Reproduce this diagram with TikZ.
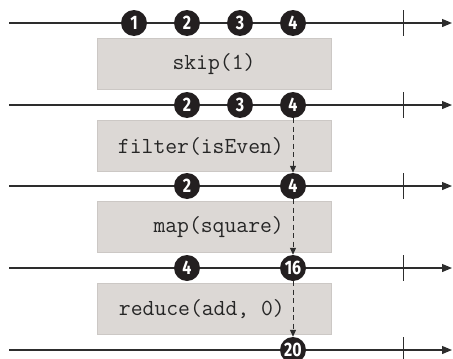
\documentclass[tikz,border=0pt]{standalone}
\usepackage{fontspec}
\usepackage{xcolor}
\usepackage{tikz}
\usetikzlibrary{arrows.meta,positioning}
\newfontfamily\numfont{Fira Sans}[FakeStretch=0.82]
\definecolor{opgray}{RGB}{220,216,213}
\definecolor{opedge}{RGB}{204,200,197}
\definecolor{ballblack}{RGB}{35,31,32}
\definecolor{linegray}{RGB}{45,45,45}

\begin{document}
\begin{tikzpicture}[x=1pt, y=-1pt, op/.style={draw=opedge,fill=opgray,minimum width=234pt,minimum height=51pt,inner sep=0pt}, optext/.style={font=\ttfamily\fontsize{23}{23}\selectfont,text=black!85,inner sep=0pt}, ball/.style={circle,fill=ballblack,text=white,minimum size=26pt,inner sep=0pt,font=\numfont\bfseries\fontsize{19.5}{19.5}\selectfont}, timeline/.style={draw=linegray,line width=1.2pt,-{Triangle[length=10pt,width=8pt]}}, tick/.style={draw=linegray,line width=0.9pt}, emit/.style={draw=linegray,line width=1pt,dash pattern=on 5pt off 3.5pt,-{Triangle[length=7pt,width=6pt]}}]
\useasboundingbox (0,0) rectangle (453,359);
% time lines
\coordinate (s1) at (9,23);  \coordinate (e1) at (452,23);  \coordinate (t1) at (403,23);
\coordinate (s2) at (9,105); \coordinate (e2) at (452,105); \coordinate (t2) at (403,105);
\coordinate (s3) at (9,186); \coordinate (e3) at (452,186); \coordinate (t3) at (403,186);
\coordinate (s4) at (9,268); \coordinate (e4) at (452,268); \coordinate (t4) at (403,268);
\coordinate (s5) at (9,350); \coordinate (e5) at (452,350); \coordinate (t5) at (403,350);
\draw[timeline] (s1) -- (e1);
\draw[timeline] (s2) -- (e2);
\draw[timeline] (s3) -- (e3);
\draw[timeline] (s4) -- (e4);
\draw[timeline] (s5) -- (e5);
\draw[tick] ([yshift=13pt]t1) -- ([yshift=-13pt]t1);
\draw[tick] ([yshift=13pt]t2) -- ([yshift=-13pt]t2);
\draw[tick] ([yshift=13pt]t3) -- ([yshift=-13pt]t3);
\draw[tick] ([yshift=13pt]t4) -- ([yshift=-13pt]t4);
\draw[tick] ([yshift=13pt]t5) -- ([yshift=-13pt]t5);
% operators
\node[op] (skip) at (214,64) {};
\node[optext] (skiptxt) at (skip.center) {skip(1)};
\node[op] (filter) at (214,146) {};
\node[optext,anchor=east] (filtertxt) at (284,146) {filter(isEven)};
\node[op] (map) at (214,227) {};
\node[optext,anchor=east] (maptxt) at (284,227) {map(square)};
\node[op] (reduce) at (214,309) {};
\node[optext,anchor=east] (reducetxt) at (285,309) {reduce(add, 0)};
% values
\node[ball] (a1) at (134,23) {1};
\node[ball] (a2) at (187,23) {2};
\node[ball] (a3) at (240,23) {3};
\node[ball] (a4) at (293,23) {4};
\node[ball] (b2) at (187,105) {2};
\node[ball] (b3) at (240,105) {3};
\node[ball] (b4) at (293,105) {4};
\node[ball] (c2) at (187,186) {2};
\node[ball] (c4) at (293,186) {4};
\node[ball] (d4) at (187,268) {4};
\node[ball] (d16) at (293,268) {16};
\node[ball] (e20) at (293,350) {20};
\draw[emit] (b4) -- (c4);
\draw[emit] (c4) -- (d16);
\draw[emit] (d16) -- (e20);
\end{tikzpicture}
\end{document}
